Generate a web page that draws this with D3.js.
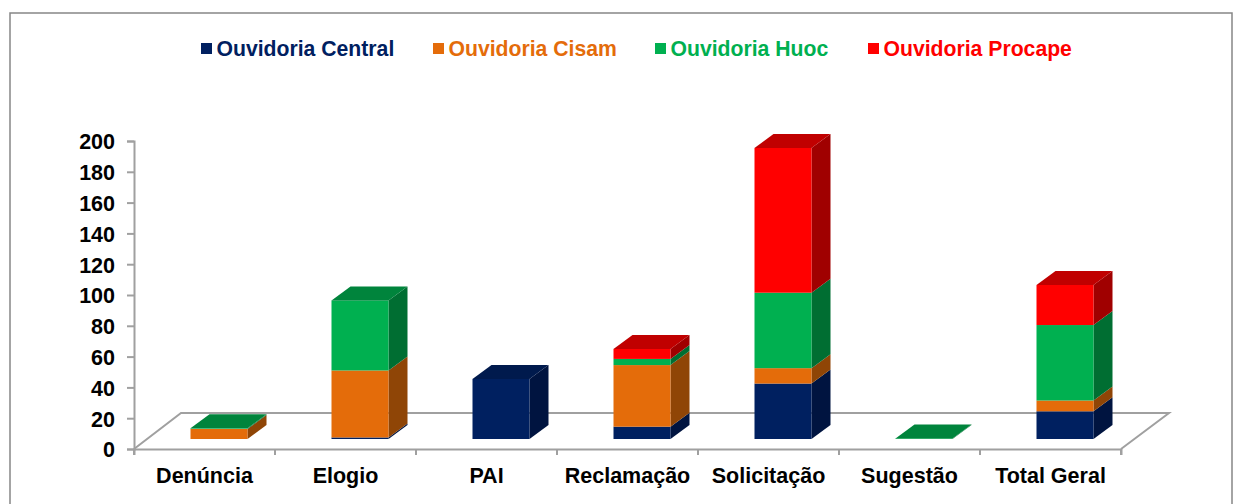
<!DOCTYPE html>
<html><head><meta charset="utf-8">
<script src="https://cdn.jsdelivr.net/npm/d3@7"></script>
<style>html,body{margin:0;padding:0;background:#fff}svg{display:block}text{font-family:"Liberation Sans",Arial,sans-serif;font-weight:bold}</style>
</head><body><div id="c"></div>
<script>
const categories=["Denúncia","Elogio","PAI","Reclamação","Solicitação","Sugestão","Total Geral"];
const seriesNames=["Ouvidoria Central","Ouvidoria Cisam","Ouvidoria Huoc","Ouvidoria Procape"];
const central=[0,1,39,8,36,0,18];
const cisam=[6.5,43.5,0,40,10,0,7];
const huoc=[0.4,45.5,0,4,49,0.4,49];
const procape=[0,0,0,6.5,94,0,26];
const yTicks=[0,20,40,60,80,100,120,140,160,180,200];
const front=["#002060","#E46C0A","#00B050","#FF0000"];
const side=["#001440","#8F4506","#006E32","#A00000"];
const topC=["#001A4D","#B35508","#00843C","#C00000"];
const legendX=[201,433,655,868];

const W=1243,H=504;
const svg=d3.select("#c").append("svg").attr("width",W).attr("height",H);
svg.append("rect").attr("x",10).attr("y",13).attr("width",1222).attr("height",500).attr("fill","#fff").attr("stroke","#868686").attr("stroke-width",1.5);

const x=d3.scaleBand().domain(categories).range([134,1121]);
const y=d3.scaleLinear().domain([0,200]).range([449,141]);
const floorD=[47,-36],barOff=[14,-10],barD=[19,-14],barW=57;
const grey="#A0A0A0";

// floor
svg.append("path").attr("d",`M${x.range()[0]},${y(0)}l${floorD[0]},${floorD[1]}H${x.range()[1]+floorD[0]+1}L${x.range()[1]},${y(0)}`)
  .attr("fill","none").attr("stroke",grey).attr("stroke-width",2);

// axes
const yAxis=d3.axisLeft(y).tickValues(yTicks).tickSize(7).tickPadding(12);
const gy=svg.append("g").attr("transform","translate(134,0)").call(yAxis);
gy.selectAll("path,line").attr("stroke",grey).attr("stroke-width",2);
gy.selectAll("text").attr("font-size",21.5).attr("fill","#000").attr("dy","0.37em");
const xAxis=d3.axisBottom(x).tickSizeOuter(6).tickSize(6).tickPadding(9);
const gx=svg.append("g").attr("transform","translate(0,449)").call(xAxis);
gx.selectAll("path").attr("stroke",grey).attr("stroke-width",2);
gx.selectAll("line").attr("stroke",grey).attr("stroke-width",2).attr("transform",`translate(${x.bandwidth()/2},0)`);
gx.append("line").attr("x1",134).attr("x2",134).attr("y1",0).attr("y2",6).attr("stroke",grey).attr("stroke-width",2);
gx.selectAll("text").attr("font-size",21.5).attr("fill","#000").attr("dy","0.9em");

// bars
const stacks=d3.stack().keys([0,1,2,3]).value((d,k)=>d[k])(categories.map((c,i)=>[central[i],cisam[i],huoc[i],procape[i]]));
const marks=svg.append("g");
categories.forEach((c,i)=>{
  const g=marks.append("g");
  const left=x(c)+56.5;
  const vals=stacks.map((s,k)=>({k,y0:s[i][0],y1:s[i][1]})).filter(d=>d.y1>d.y0);
  vals.forEach(d=>{
    const yb=y(d.y0)+barOff[1],yt=y(d.y1)+barOff[1];
    g.append("path").attr("d",`M${left+barW},${yt}l${barD[0]},${barD[1]}V${yb+barD[1]}l${-barD[0]},${-barD[1]}Z`).attr("fill",side[d.k]);
    g.append("rect").attr("x",left).attr("y",yt).attr("width",barW).attr("height",yb-yt).attr("fill",front[d.k]);
  });
  const t=vals[vals.length-1];
  const yt=y(t.y1)+barOff[1];
  g.append("path").attr("d",`M${left},${yt}l${barD[0]},${barD[1]}h${barW}l${-barD[0]},${-barD[1]}Z`).attr("fill",topC[t.k]);
});

// legend
seriesNames.forEach((n,i)=>{
  svg.append("rect").attr("x",legendX[i]).attr("y",43).attr("width",11).attr("height",11).attr("fill",front[i]);
  svg.append("text").attr("x",legendX[i]+15.5).attr("y",56).attr("font-size",21.2).attr("fill",front[i]).text(n);
});
</script></body></html>
